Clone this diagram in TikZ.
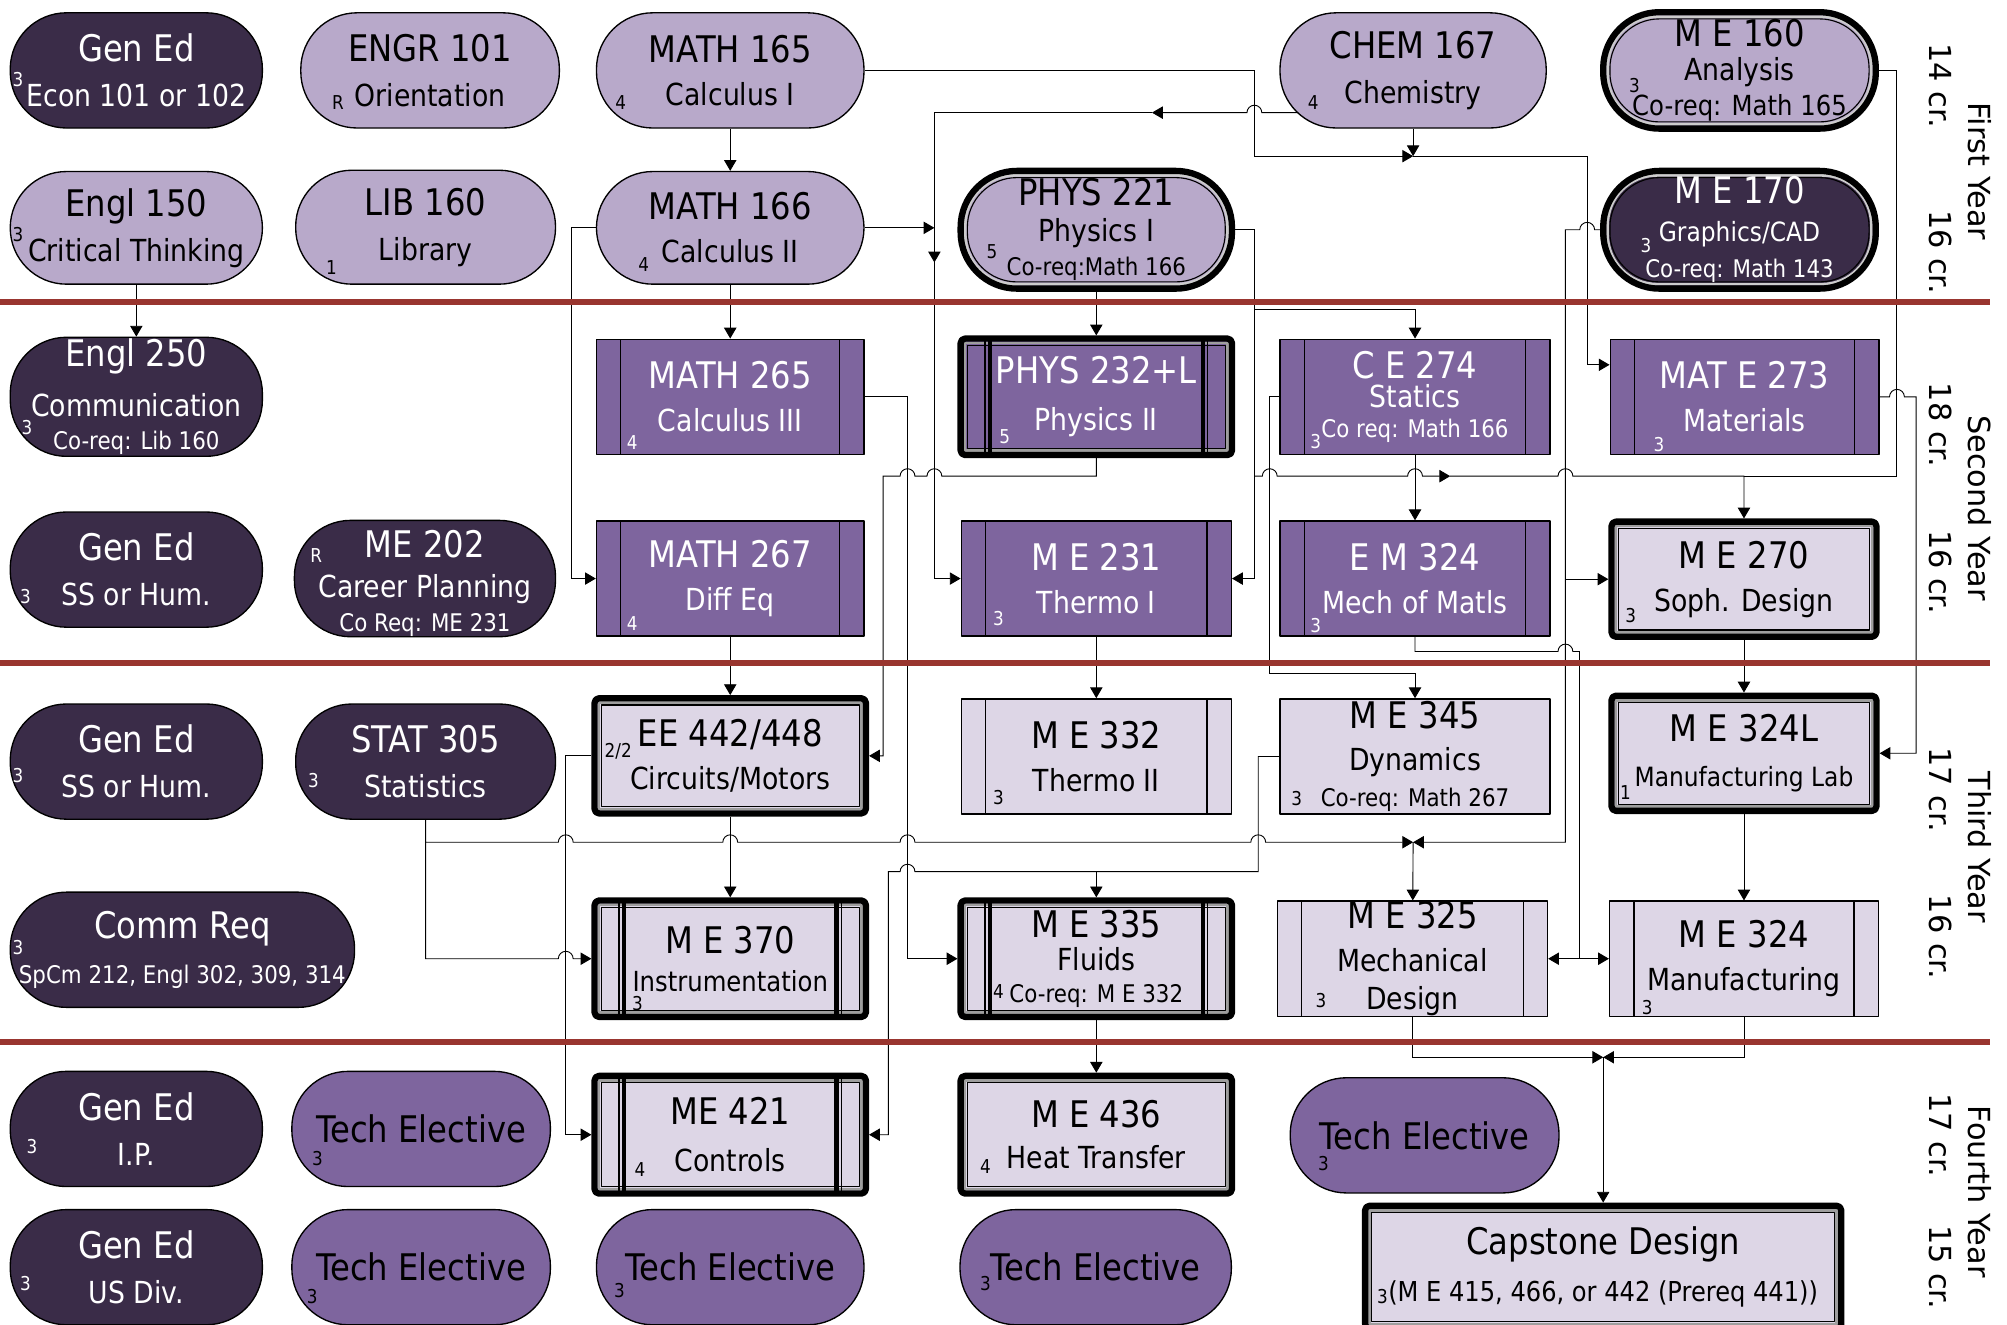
\documentclass[tikz,border=0pt]{standalone}
\usepackage{fontspec}
\setmainfont{DejaVu Sans}[FakeStretch=0.88]
\newfontfamily\yearfont{DejaVu Sans}
\usetikzlibrary{arrows.meta,backgrounds}

\definecolor{cdark}{HTML}{3A2C48}
\definecolor{clite}{HTML}{B8A9CA}
\definecolor{cmid}{HTML}{7E659E}
\definecolor{cpale}{HTML}{DDD6E6}
\definecolor{cred}{HTML}{99352F}

\newcommand\fL{\fontsize{16.3}{20}\selectfont}
\newcommand\fM{\fontsize{13.5}{20}\selectfont}
\newcommand\fMx{\fontsize{11.8}{20}\selectfont}
\newcommand\fS{\fontsize{10.8}{20}\selectfont}
\newcommand\fC{\fontsize{8.5}{10}\selectfont}

% double frame inside a heavy border
\newcommand\heavyframe[2]{%
  \draw[#2,line width=1.2pt,#1]
    ([shift={(2pt,2pt)}]path picture bounding box.south west) rectangle
    ([shift={(-2pt,-2pt)}]path picture bounding box.north east);
  \draw[black,line width=0.5pt,#1]
    ([shift={(3pt,3pt)}]path picture bounding box.south west) rectangle
    ([shift={(-3pt,-3pt)}]path picture bounding box.north east);}
\newcommand\proclines{%
  \draw[black,line width=0.6pt]
    ([xshift=0.38cm]path picture bounding box.north west) -- ([xshift=0.38cm]path picture bounding box.south west)
    ([xshift=-0.38cm]path picture bounding box.north east) -- ([xshift=-0.38cm]path picture bounding box.south east);}
\newcommand\heavyproclines{%
  \proclines
  \draw[black,line width=1.8pt]
    ([xshift=0.46cm]path picture bounding box.north west) -- ([xshift=0.46cm]path picture bounding box.south west)
    ([xshift=-0.46cm]path picture bounding box.north east) -- ([xshift=-0.46cm]path picture bounding box.south east);}

\begin{document}
\begin{tikzpicture}[x=0.02cm, y=-0.02cm, line join=round, >={Triangle[length=4.8pt,width=5.5pt]},
  course/.style={draw, line width=0.6pt, inner sep=0pt, align=center, font=\fL},
  wh/.style 2 args={minimum width=#1*0.02cm, minimum height=#2*0.02cm},
  pill/.style={course, rounded corners=0.88cm},
  block/.style={course},
  fdark/.style={fill=cdark, text=white},
  flite/.style={fill=clite},
  fmid/.style={fill=cmid, text=white},
  ftech/.style={fill=cmid},
  fpale/.style={fill=cpale},
  proc/.style={path picture={\proclines}},
  heavy/.style={line width=2.8pt, rounded corners=2pt, path picture={\heavyframe{sharp corners}{black!38}}},
  heavyproc/.style={line width=2.8pt, rounded corners=2pt, path picture={\heavyframe{sharp corners}{black!38}\heavyproclines}},
  heavypill/.style={line width=2.8pt, path picture={\heavyframe{rounded corners=22pt}{white!80!black}}},
  cr/.style={inner sep=0pt, font=\fC},
  yr/.style={rotate=-90, inner sep=0pt, font=\yearfont\fontsize{13.5}{16}\selectfont},
  redline/.style={line width=2.5pt, cred},
  hopr/.style={insert path={-- ([xshift=-3.3pt]#1) arc[start angle=180,end angle=0,radius=3.3pt]}},
  hopl/.style={insert path={-- ([xshift=3.3pt]#1) arc[start angle=0,end angle=180,radius=3.3pt]}}]
  \useasboundingbox (0,0) rectangle (1568,1035);

  % first year
  \node[pill,fdark,wh={197}{90}] (gened1) at (106.5,55) {Gen Ed\\\fM Econ 101 or 102};
  \node[pill,flite,wh={202}{90}] (engr101) at (336,55) {ENGR 101\\\fM Orientation};
  \node[pill,flite,wh={209}{90}] (math165) at (570.5,55) {MATH 165\\[-1pt]\fM Calculus I};
  \node[pill,flite,wh={208}{90}] (chem167) at (1104,55) {CHEM 167\\\fM Chemistry};
  \node[pill,flite,heavypill,wh={213}{91}] (me160) at (1359,55)
    {M E 160\\[-5pt]\fM Analysis\\[-4pt]{\fontsize{12.3}{20}\selectfont Co-req: Math 165}};
  \node[pill,flite,wh={197}{88}] (engl150) at (106.5,178) {Engl 150\\\fM Critical Thinking};
  \node[pill,flite,wh={203}{89}] (lib160) at (332.5,177.5) {LIB 160\\\fM Library};
  \node[pill,flite,wh={209}{88}] (math166) at (570.5,178) {MATH 166\\[-1pt]\fM Calculus II};
  \node[pill,flite,heavypill,wh={212}{92}] (phys221) at (856.5,179.5)
    {PHYS 221\\[-4pt]\fM Physics I\\[-5pt]\fS Co-req:Math 166};
  \node[pill,fdark,heavypill,wh={213}{92}] (me170) at (1359,179.5)
    {M E 170\\[-3pt]\fMx Graphics/CAD\\[-4pt]\fS Co-req: Math 143};

  % second year
  \node[pill,fdark,wh={197}{93}] (engl250) at (106.5,310)
    {Engl 250\\[2pt]\fM Communication\\[-5pt]\fS Co-req: Lib 160};
  \node[block,fmid,proc,wh={209}{90}] (math265) at (570.5,310) {MATH 265\\[-1pt]\fM Calculus III};
  \node[block,fmid,heavyproc,wh={212}{91}] (phys232) at (856.5,310) {PHYS 232+L\\[1pt]\fM Physics II};
  \node[block,fmid,proc,wh={211}{90}] (ce274) at (1105.5,310)
    {C E 274\\[-7pt]\fM Statics\\[-7pt]\fS Co req: Math 166};
  \node[block,fmid,proc,wh={210}{90}] (mate273) at (1363,310) {MAT E 273\\[-1pt]\fM Materials};
  \node[pill,fdark,wh={197}{90}] (gened2) at (106.5,445) {Gen Ed\\\fM SS or Hum.};
  \node[pill,fdark,wh={204}{90}] (me202) at (332,452)
    {\rule{0pt}{16.5pt}ME 202\\[-2pt]\fM Career Planning\\[-5pt]\fS Co Req: ME 231};
  \node[block,fmid,proc,wh={209}{90}] (math267) at (570.5,452) {MATH 267\\[-1pt]\fM Diff Eq};
  \node[block,fmid,proc,wh={211}{90}] (me231) at (856.5,452) {M E 231\\[-1pt]\fM Thermo I};
  \node[block,fmid,proc,wh={211}{90}] (em324) at (1105.5,452) {E M 324\\[-1pt]\fM Mech of Matls};
  \node[block,fpale,heavy,wh={207}{90}] (me270) at (1362.5,452.5) {M E 270\\[-1pt]\fM Soph. Design};

  % third year
  \node[pill,fdark,wh={197}{90}] (gened3) at (106.5,595) {Gen Ed\\\fM SS or Hum.};
  \node[pill,fdark,wh={203}{90}] (stat305) at (332.5,595) {STAT 305\\\fM Statistics};
  \node[block,fpale,heavy,wh={212}{90}] (ee442) at (570.5,590.5) {EE 442/448\\[-1pt]\fM Circuits/Motors};
  \node[block,fpale,proc,wh={211}{90}] (me332) at (856.5,591) {M E 332\\[-1pt]\fM Thermo II};
  \node[block,fpale,wh={211}{90}] (me345) at (1105.5,591)
    {M E 345\\[-1pt]\fM Dynamics\\[-4pt]\fS Co-req: Math 267};
  \node[block,fpale,heavy,wh={207}{90}] (me324L) at (1362.5,588.5) {M E 324L\\\fMx Manufacturing Lab};
  \node[pill,fdark,wh={269}{90}] (commreq) at (142.5,742) {Comm Req\\\fS SpCm 212, Engl 302, 309, 314};
  \node[block,fpale,heavyproc,wh={212}{91}] (me370) at (570.5,749)
    {M E 370\\[-3pt]{\fontsize{12.3}{20}\selectfont Instrumentation}};
  \node[block,fpale,heavyproc,wh={212}{91}] (me335) at (856.5,749)
    {M E 335\\[-5pt]\fM Fluids\\[-6pt]\fS Co-req: M E 332};
  \node[block,fpale,proc,wh={211}{90}] (me325) at (1103.5,749) {M E 325\\[-1pt]\fM Mechanical\\[-3pt]\fM Design};
  \node[block,fpale,proc,wh={210}{90}] (me324) at (1362.5,749) {M E 324\\[-1pt]\fM Manufacturing};

  % fourth year
  \node[pill,fdark,wh={197}{90}] (gened4) at (106.5,882) {Gen Ed\\\fM I.P.};
  \node[pill,ftech,wh={202}{90}] (tech1) at (329,882) {Tech Elective};
  \node[block,fpale,heavyproc,wh={212}{92}] (me421) at (570.5,886.5) {ME 421\\[1pt]\fM Controls};
  \node[block,fpale,heavy,wh={212}{92}] (me436) at (856.5,886.5) {M E 436\\[-2pt]\fM Heat Transfer};
  \node[pill,ftech,wh={210}{90}] (tech2) at (1113,887) {Tech Elective};
  \node[pill,fdark,wh={197}{90}] (gened5) at (106.5,990) {Gen Ed\\\fM US Div.};
  \node[pill,ftech,wh={202}{90}] (tech3) at (329,990) {Tech Elective};
  \node[pill,ftech,wh={209}{90}] (tech4) at (570.5,990) {Tech Elective};
  \node[pill,ftech,wh={212}{90}] (tech5) at (856,990) {Tech Elective};
  \node[block,fpale,heavy,wh={372}{96}] (capstone) at (1252.5,990)
    {Capstone Design\\[1pt]{\fontsize{12.2}{20}\selectfont(M E 415, 466, or 442 (Prereq 441))}};

  % credits
  \path[every node/.style={cr}]
    (14,62) node[text=white] (gened1c) {3}
    (264,80) node (engr101c) {R}
    (485,80) node (math165c) {4}
    (1026,80) node (chem167c) {4}
    (1277,67) node (me160c) {3}
    (14,183) node (engl150c) {3}
    (259,209) node (lib160c) {1}
    (503,207) node (math166c) {4}
    (775,197) node (phys221c) {5}
    (1286,192) node[text=white] (me170c) {3}
    (21,334) node[text=white] (engl250c) {3}
    (494,346) node[text=white] (math265c) {4}
    (785,341) node[text=white] (phys232c) {5}
    (1028,345) node[text=white] (ce274c) {3}
    (1296,347) node[text=white] (mate273c) {3}
    (20,466) node[text=white] (gened2c) {3}
    (247,434) node[text=white] (me202c) {R}
    (494,487) node[text=white] (math267c) {4}
    (780,483) node[text=white] (me231c) {3}
    (1028,489) node[text=white] (em324c) {3}
    (1274,481) node (me270c) {3}
    (14,606) node[text=white] (gened3c) {3}
    (245,610) node[text=white] (stat305c) {3}
    (483,587) node (ee442c) {2/2}
    (780,623) node (me332c) {3}
    (1013,624) node (me345c) {3}
    (1270,619) node (me324Lc) {1}
    (14,740) node[text=white] (commreqc) {3}
    (498,784) node (me370c) {3}
    (780,775) node (me335c) {4}
    (1032,782) node (me325c) {3}
    (1287,787) node (me324c) {3}
    (25,896) node[text=white] (gened4c) {3}
    (248,905) node (tech1c) {3}
    (500,914) node (me421c) {4}
    (770,911) node (me436c) {4}
    (1034,909) node (tech2c) {3}
    (20,1003) node[text=white] (gened5c) {3}
    (244,1013) node (tech3c) {3}
    (484,1008) node (tech4c) {3}
    (770,1003) node (tech5c) {3}
    (1080,1013) node (capstonec) {3};

  % years
  \node[yr] (yr1) at (1547,134) {First Year};
  \node[yr] (cr1a) at (1516,67) {14 cr.};
  \node[yr] (cr1b) at (1516,197) {16 cr.};
  \node[yr] (yr2) at (1547,397) {Second Year};
  \node[yr] (cr2a) at (1516,332) {18 cr.};
  \node[yr] (cr2b) at (1516,447) {16 cr.};
  \node[yr] (yr3) at (1547,662) {Third Year};
  \node[yr] (cr3a) at (1516,617) {17 cr.};
  \node[yr] (cr3b) at (1516,732) {16 cr.};
  \node[yr] (yr4) at (1547,931) {Fourth Year};
  \node[yr] (cr4a) at (1516,887) {17 cr.};
  \node[yr] (cr4b) at (1516,990) {15 cr.};

  \begin{scope}[on background layer, line width=0.6pt]
    \coordinate (j1) at (1104,122);
    \coordinate (j2) at (1104,658);
    \coordinate (j3) at (1252.5,826);
    \coordinate (k1) at (980,122);
    \coordinate (k2) at (1240,285);
    \coordinate (k3) at (1497,310);
    \coordinate (chemA) at (900,88);
    \coordinate (chemB) at (730,205);
    \coordinate (p1) at (980,242);
    \coordinate (p2) at (980,372);
    \coordinate (p3) at (1133,372);
    \coordinate (q1) at (1482,372);
    \coordinate (r2) at (1223,658);
    \coordinate (s0) at (1234,509);
    \coordinate (s1) at (1234,749);
    \coordinate (t1) at (992,526);
    \coordinate (u1) at (983,681);
    \coordinate (u2) at (694,681);
    \coordinate (x1) at (690,372);
    \coordinate (y1) at (709,749);

    \draw[->] (engl150) -- (engl250);
    \draw[->] (math165) -- (math166);
    \draw[->] (math166) -- (math265);
    \draw[->] (math267) -- (ee442);
    \draw[->] (ee442) -- (me370);
    \draw[->] (phys221) -- (phys232);
    \draw[->] (me231) -- (me332);
    \draw[->] (me335) -- (me436);
    \draw[->] (ce274) -- (em324);
    \draw[->] (me270) -- (me324L);
    \draw[->] (me324L) -- (me324);

    \draw[->] (math165) -| (k1) -- (j1);
    \draw[->] (chem167) -- (j1);
    \draw[->] (j1) -| (k2) -- (k2 -| mate273.west);
    \draw[->] (chem167 |- chemA) [hopl={980,88}] -- (chemA);
    \draw[->] (chemA) -| (chemB);
    \draw[->] (chemB) |- (me231);
    \draw[->] (math166) -- (math166 -| chemB);
    \draw[->] (math166.west) -- ++(-19,0) |- (math267);

    \draw[->] (phys221.east) -| (p2) |- (me231);
    \draw[->] (p1) -| (ce274);
    \draw[->] (p2) [hopr={992,372}] [hopr={1105.5,372}] -- (p3);
    \draw[->] (p3) [hopr={1223,372}] -| (me270);
    \draw (me160) -| (q1) -- (q1 -| me270);
    \draw[->] (mate273.east) [hopr={1482,310}] -- (k3) |- (me324L);

    \draw[->] (me170.west) [hopl={1240,179.5}] -- (r2 |- me170) -- (r2) -- (j2);
    \draw[->] (r2 |- me270) -- (me270);
    \draw (em324) -- (em324 |- s0) [hopr={1223,509}] -- (s0) -- (s1);
    \draw[->] (s1) -- (me325);
    \draw[->] (s1) -- (me324);

    \draw[->] (ce274.west) -| (t1) -| (me345);
    \draw[->] (me345.west) -| (u1) [hopl={709,681}] -- (u2) |- (me421);
    \draw[->] (me335 |- u1) -- (me335);

    \draw[->] (stat305) -- (stat305 |- j2) [hopr={442,658}] [hopr={570.5,658}] [hopr={709,658}] [hopr={983,658}] -- (j2);
    \draw[->] (stat305 |- j2) -- (stat305 |- me370) [hopr={442,749}] -- (me370);
    \draw[->] (j2) -- (me325);
    \draw[->] (ee442.west) -- ++(-20,0) |- (me421);
    \draw[->] (phys232) -- (phys232 |- x1) [hopl={730,372}] [hopl={709,372}] -- (x1) |- (ee442);
    \draw[->] (math265.east) -| (y1) -- (me335);

    \draw[->] (me325) |- (j3);
    \draw[->] (me324) |- (j3);
    \draw[->] (j3) -- (capstone);

    \draw[redline] (0,236) -- (1555,236);
    \draw[redline] (0,518) -- (1555,518);
    \draw[redline] (0,814) -- (1555,814);
  \end{scope}
\end{tikzpicture}
\end{document}
